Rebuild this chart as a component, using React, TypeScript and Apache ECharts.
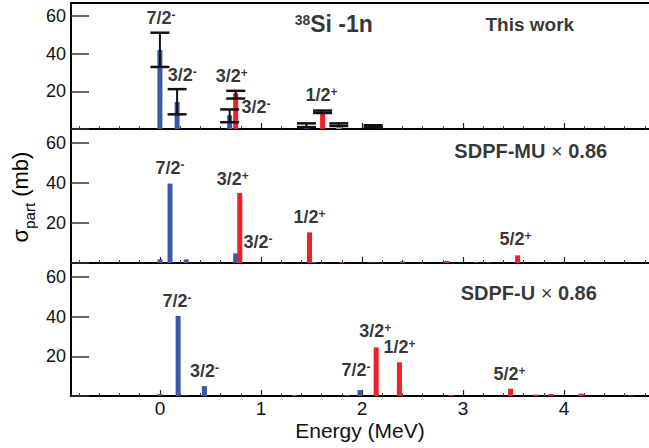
import React, { useEffect, useRef } from "react";
import * as echarts from "echarts";

const X_MIN = -0.88;
const X_MAX = 4.84;
const Y_MAX = 67;
const energyTicks = [0, 1, 2, 3, 4];
const yTicks = [0, 20, 40, 60];

// Panel 1: This work  [energy, sigma]
const workBlue = [[0.0, 42.0], [0.17, 14.4], [0.69, 7.3], [1.45, 1.0]];
const workRed = [[0.75, 19.0], [1.61, 9.2]];
const workGray = [[1.77, 1.5]];
// [energy, low, high]
const workErr = [
  [0.0, 33.0, 51.2], [0.17, 7.8, 21.2], [0.69, 3.6, 10.4], [0.75, 16.2, 20.3],
  [1.45, 1.0, 3.0], [1.61, 8.5, 9.8], [1.77, 1.6, 3.0], [2.11, 0.9, 2.0],
];

// Panel 2: SDPF-MU x 0.86
const muBlue = [[0.0, 1.8], [0.1, 39.7], [0.26, 1.8], [0.75, 4.8], [1.53, 0.5], [2.08, 0.3], [2.4, 0.8]];
const muRed = [[0.79, 35.0], [1.48, 15.3], [1.8, 0.5], [2.14, 0.3], [2.84, 1.0], [3.13, 0.3], [3.25, 0.3], [3.54, 3.8]];

// Panel 3: SDPF-U x 0.86
const uBlue = [[0.0, 1.0], [0.18, 40.3], [0.25, 0.3], [0.44, 5.0], [1.33, 0.5], [1.85, 0.5], [1.98, 3.0]];
const uRed = [[2.14, 24.5], [2.37, 17.0], [2.88, 0.5], [3.47, 3.7], [3.72, 0.7], [3.87, 1.0], [4.17, 1.2], [4.66, 0.3]];

// state labels: [spin, parity, energy, sigma]
const workLabels = [["7/2", "-", 0.01, 58.7], ["3/2", "-", 0.22, 28.1], ["3/2", "+", 0.71, 27.9], ["3/2", "-", 0.95, 11.3], ["1/2", "+", 1.6, 17.8]];
const muLabels = [["7/2", "-", 0.1, 47.1], ["3/2", "+", 0.72, 41.4], ["3/2", "-", 0.97, 10.1], ["1/2", "+", 1.48, 22.6], ["5/2", "+", 3.52, 11.6]];
const uLabels = [["7/2", "-", 0.17, 47.3], ["3/2", "-", 0.44, 12.0], ["7/2", "-", 1.94, 12.5], ["3/2", "+", 2.13, 32.0], ["1/2", "+", 2.37, 24.2], ["5/2", "+", 3.46, 10.5]];

// panel titles: [text, energy, sigma]
const panelTitles = [
  ["{w|This work}", 3.66, 55.4],
  ["{b|SDPF-MU }{x|×}{b| 0.86}", 3.67, 55.9],
  ["{b|SDPF-U }{x|×}{b| 0.86}", 3.65, 51.8],
];
const reactionTitle = ["{sup|38}{big|Si -1n}", 1.72, 55.4];

const BLUE = "#3a5aa8";
const RED = "#ee1f26";
const GRAY = "#9a9a9a";
const FONT = "Liberation Sans";
const INK = "#000";

const minorTicks: number[] = [];
for (let k = -4; k <= 24; k++) {
  if (k % 5 !== 0) minorTicks.push(Math.round(k * 20) / 100);
}

export default function App() {
  const ref = useRef<HTMLDivElement>(null);
  useEffect(() => {
    const chart = echarts.init(ref.current!, null, { renderer: "svg" });
    const grids = [
      { left: 71, top: 3, width: 578, height: 126 },
      { left: 71, top: 129, width: 578, height: 134 },
      { left: 71, top: 263, width: 578, height: 133 },
    ];
    const xAxis: any[] = [];
    const yAxis: any[] = [];
    for (let i = 0; i < 3; i++) {
      xAxis.push({
        type: "value", gridIndex: i, position: "bottom", min: X_MIN, max: X_MAX,
        axisLine: { show: true, onZero: false, lineStyle: { color: "#000", width: 2 } },
        axisTick: { show: true, inside: true, length: 6, customValues: energyTicks, lineStyle: { color: "#222", width: 1.2 } },
        axisLabel: {
          show: i === 2, customValues: energyTicks, margin: 3,
          fontFamily: FONT, fontSize: 19, color: "#111",
        },
        splitLine: { show: false },
        name: i === 2 ? "Energy (MeV)" : "",
        nameLocation: "middle", nameGap: 24,
        nameTextStyle: { fontFamily: FONT, fontSize: 21, color: "#111" },
      });
      xAxis.push({
        type: "value", gridIndex: i, position: "bottom", min: X_MIN, max: X_MAX,
        axisLine: { show: false },
        axisTick: { show: true, inside: true, length: 3, customValues: minorTicks, lineStyle: { color: "#444", width: 1 } },
        axisLabel: { show: false },
        splitLine: { show: false },
      });
      yAxis.push({
        type: "value", gridIndex: i, min: 0, max: Y_MAX,
        axisLine: { show: true, onZero: false, lineStyle: { color: "#000", width: 2 } },
        axisTick: { show: true, inside: true, length: 18, customValues: yTicks, lineStyle: { color: "#333", width: 1.5 } },
        axisLabel: {
          customValues: yTicks, margin: 5, fontFamily: FONT, fontSize: 18, color: "#111",
          formatter: (v: number) => (v === 0 ? "" : String(v)),
        },
        splitLine: { show: false },
      });
    }
    xAxis.push({
      type: "value", gridIndex: 0, position: "top", min: X_MIN, max: X_MAX,
      axisLine: { show: true, onZero: false, lineStyle: { color: "#000", width: 2 } },
      axisTick: { show: false }, axisLabel: { show: false }, splitLine: { show: false },
    });

    const bar = (data: number[][], color: string, i: number) => ({
      type: "bar", xAxisIndex: 2 * i, yAxisIndex: i, data, barWidth: 5, barGap: "-100%",
      itemStyle: { color }, silent: true, z: 2,
    });

    const stateRich = {
      b: { fontFamily: FONT, fontSize: 18, fontWeight: "bold", color: INK, lineHeight: 20, verticalAlign: "top" },
      s: { fontFamily: FONT, fontSize: 12, fontWeight: "bold", color: INK, lineHeight: 12, verticalAlign: "top" },
    };
    const labelSeries = (labels: any[], i: number) => ({
      type: "scatter", xAxisIndex: 2 * i, yAxisIndex: i, symbolSize: 0, silent: true, z: 10,
      data: labels.map((l) => ({ value: [l[2], l[3]], label: { formatter: `{b|${l[0]}}{s|${l[1]}}` } })),
      label: { show: true, position: "inside", rich: stateRich },
    });
    const titleRich = {
      w: { fontFamily: FONT, fontSize: 19, fontWeight: "bold", color: INK },
      b: { fontFamily: FONT, fontSize: 20, fontWeight: "bold", color: INK },
      x: { fontFamily: FONT, fontSize: 20, color: INK },
      sup: { fontFamily: FONT, fontSize: 14, fontWeight: "bold", color: INK, lineHeight: 14, verticalAlign: "top" },
      big: { fontFamily: FONT, fontSize: 23, fontWeight: "bold", color: INK, lineHeight: 24, verticalAlign: "top" },
    };
    const titleSeries = (items: any[], i: number) => ({
      type: "scatter", xAxisIndex: 2 * i, yAxisIndex: i, symbolSize: 0, silent: true, z: 10,
      data: items.map((t) => ({ value: [t[1], t[2]], label: { formatter: t[0] } })),
      label: { show: true, position: "inside", rich: titleRich },
    });

    const errSeries = {
      type: "custom", xAxisIndex: 0, yAxisIndex: 0, data: workErr, z: 5, silent: true,
      encode: { x: 0, y: [1, 2] },
      renderItem: (_p: any, api: any) => {
        const e = api.value(0);
        const lo = api.coord([e, api.value(1)]);
        const hi = api.coord([e, api.value(2)]);
        const hw = 9.5;
        const stroke = "#111";
        return {
          type: "group",
          children: [
            { type: "line", shape: { x1: lo[0], y1: lo[1], x2: hi[0], y2: hi[1] }, style: { stroke, lineWidth: 2 } },
            { type: "line", shape: { x1: lo[0] - hw, y1: lo[1], x2: lo[0] + hw, y2: lo[1] }, style: { stroke, lineWidth: 2.5 } },
            { type: "line", shape: { x1: hi[0] - hw, y1: hi[1], x2: hi[0] + hw, y2: hi[1] }, style: { stroke, lineWidth: 2.5 } },
          ],
        };
      },
    };

    chart.setOption({
      animation: false,
      grid: grids,
      xAxis,
      yAxis,
      series: [
        bar(workBlue, BLUE, 0), bar(workGray, GRAY, 0), bar(workRed, RED, 0), errSeries,
        bar(muBlue, BLUE, 1), bar(muRed, RED, 1),
        bar(uBlue, BLUE, 2), bar(uRed, RED, 2),
        labelSeries(workLabels, 0), labelSeries(muLabels, 1), labelSeries(uLabels, 2),
        titleSeries([panelTitles[0], reactionTitle], 0), titleSeries([panelTitles[1]], 1), titleSeries([panelTitles[2]], 2),
      ],
      graphic: [
        {
          type: "text", x: 21, y: 197, rotation: Math.PI / 2,
          style: {
            text: "{m|σ}{sub|part}{m| (mb)}",
            align: "center", verticalAlign: "middle",
            rich: {
              m: { fontFamily: FONT, fontSize: 22, color: "#111", lineHeight: 24, verticalAlign: "top" },
              sub: { fontFamily: FONT, fontSize: 15, color: "#111", lineHeight: 16, padding: [13, 0, 0, 0], verticalAlign: "top" },
            },
          },
        },
      ],
    });
    return () => chart.dispose();
  }, []);
  return <div ref={ref} style={{ position: "absolute", left: 0, top: 0, width: 649, height: 448 }} />;
}
